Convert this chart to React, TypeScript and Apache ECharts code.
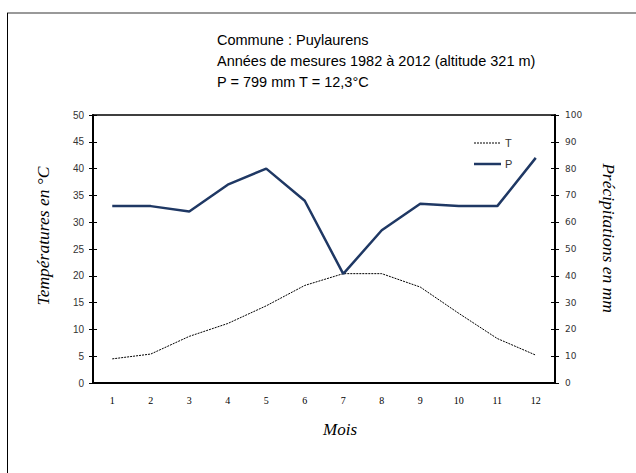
import React, { useEffect, useRef } from "react";
import * as echarts from "echarts";

const months = ["1", "2", "3", "4", "5", "6", "7", "8", "9", "10", "11", "12"];
const temperature = [4.5, 5.4, 8.7, 11.1, 14.4, 18.2, 20.4, 20.4, 17.9, 13.0, 8.3, 5.2];
const precipitation = [66, 66, 64, 74, 80, 68, 40.7, 57, 66.9, 66, 66, 84];
const titleLines = [
  "Commune : Puylaurens",
  "Années de mesures 1982 à 2012 (altitude 321 m)",
  "P = 799 mm T = 12,3°C",
];

export default function App() {
  const ref = useRef<HTMLDivElement>(null);
  useEffect(() => {
    if (!ref.current) return;
    const chart = echarts.init(ref.current, undefined, { renderer: "svg" });
    const sans = "Liberation Sans";
    const serif = "Liberation Serif";
    const baseY = (i: number) => ({
      type: "value",
      min: 0,
      max: i % 2 === 0 ? 50 : 100,
      interval: i % 2 === 0 ? 5 : 10,
      position: i % 2 === 0 ? "left" : "right",
      splitLine: { show: false },
    });
    chart.setOption({
      animation: false,
      backgroundColor: "#fff",
      grid: {
        left: 93,
        right: 81,
        top: 115,
        bottom: 90,
        show: true,
        borderColor: "#000",
        borderWidth: 1.5,
        backgroundColor: "transparent",
      },
      xAxis: {
        type: "category",
        data: months,
        boundaryGap: true,
        axisLine: { lineStyle: { color: "#000", width: 2 } },
        axisTick: { alignWithLabel: true, inside: true, length: 3, lineStyle: { color: "#000" } },
        axisLabel: { fontFamily: serif, fontSize: 10, color: "#000", margin: 12 },
      },
      yAxis: [
        {
          ...baseY(0),
          axisLine: { show: true, lineStyle: { color: "#000", width: 2 } },
          axisTick: { show: true, length: 4, lineStyle: { color: "#000" } },
          axisLabel: { fontFamily: sans, fontSize: 10, color: "#333", margin: 9 },
        },
        {
          ...baseY(1),
          axisLine: { show: true, lineStyle: { color: "#000", width: 2 } },
          axisTick: { show: true, length: 4, lineStyle: { color: "#000" } },
          axisLabel: { fontFamily: "DejaVu Sans", fontSize: 9, color: "#333", margin: 10 },
        },
        {
          ...baseY(2),
          axisLine: { show: false },
          axisTick: { show: true, inside: true, length: 4, lineStyle: { color: "#000" } },
          axisLabel: { show: false },
        },
        {
          ...baseY(3),
          axisLine: { show: false },
          axisTick: { show: true, inside: true, length: 4, lineStyle: { color: "#000" } },
          axisLabel: { show: false },
        },
      ],
      series: [
        {
          name: "T",
          type: "line",
          yAxisIndex: 0,
          data: temperature,
          symbol: "none",
          lineStyle: { color: "#000", width: 1, type: [2, 1] },
          itemStyle: { color: "#000" },
        },
        {
          name: "P",
          type: "line",
          yAxisIndex: 1,
          data: precipitation,
          symbol: "none",
          lineStyle: { color: "#1f3864", width: 2.5 },
          itemStyle: { color: "#1f3864" },
        },
      ],
      graphic: [
        { type: "line", shape: { x1: 7, y1: 13, x2: 636, y2: 13 }, style: { stroke: "#777", lineWidth: 1.5 } },
        { type: "line", shape: { x1: 7.5, y1: 13, x2: 7.5, y2: 473 }, style: { stroke: "#000", lineWidth: 1 } },
        { type: "line", shape: { x1: 474, y1: 143, x2: 501, y2: 143 }, style: { stroke: "#000", lineWidth: 1, lineDash: [2, 1] } },
        { type: "text", x: 505, y: 143, style: { text: "T", fontFamily: sans, fontSize: 11, fill: "#333", verticalAlign: "middle" } },
        { type: "line", shape: { x1: 474, y1: 164, x2: 501, y2: 164 }, style: { stroke: "#1f3864", lineWidth: 2.5 } },
        { type: "text", x: 505, y: 164, style: { text: "P", fontFamily: sans, fontSize: 11, fill: "#333", verticalAlign: "middle" } },
        ...titleLines.map((t, i) => ({
          type: "text",
          x: 217,
          y: 40 + i * 21,
          style: { text: t, fontFamily: sans, fontSize: 14.5, fill: "#000", verticalAlign: "middle" },
        })),
        {
          type: "text",
          x: 43,
          y: 236,
          rotation: Math.PI / 2,
          style: {
            text: "Températures en °C",
            fontFamily: serif,
            fontStyle: "italic",
            fontSize: 17.5,
            fill: "#000",
            align: "center",
            verticalAlign: "middle",
          },
        },
        {
          type: "text",
          x: 609,
          y: 238,
          rotation: -Math.PI / 2,
          style: {
            text: "Précipitations en mm",
            fontFamily: serif,
            fontStyle: "italic",
            fontSize: 17.5,
            fill: "#000",
            align: "center",
            verticalAlign: "middle",
          },
        },
        {
          type: "text",
          x: 340,
          y: 429,
          style: {
            text: "Mois",
            fontFamily: serif,
            fontStyle: "italic",
            fontSize: 17,
            fill: "#000",
            align: "center",
            verticalAlign: "middle",
          },
        },
      ],
    });
    return () => chart.dispose();
  }, []);
  return <div ref={ref} style={{ width: 636, height: 473, position: "absolute", left: 0, top: 0 }} />;
}
